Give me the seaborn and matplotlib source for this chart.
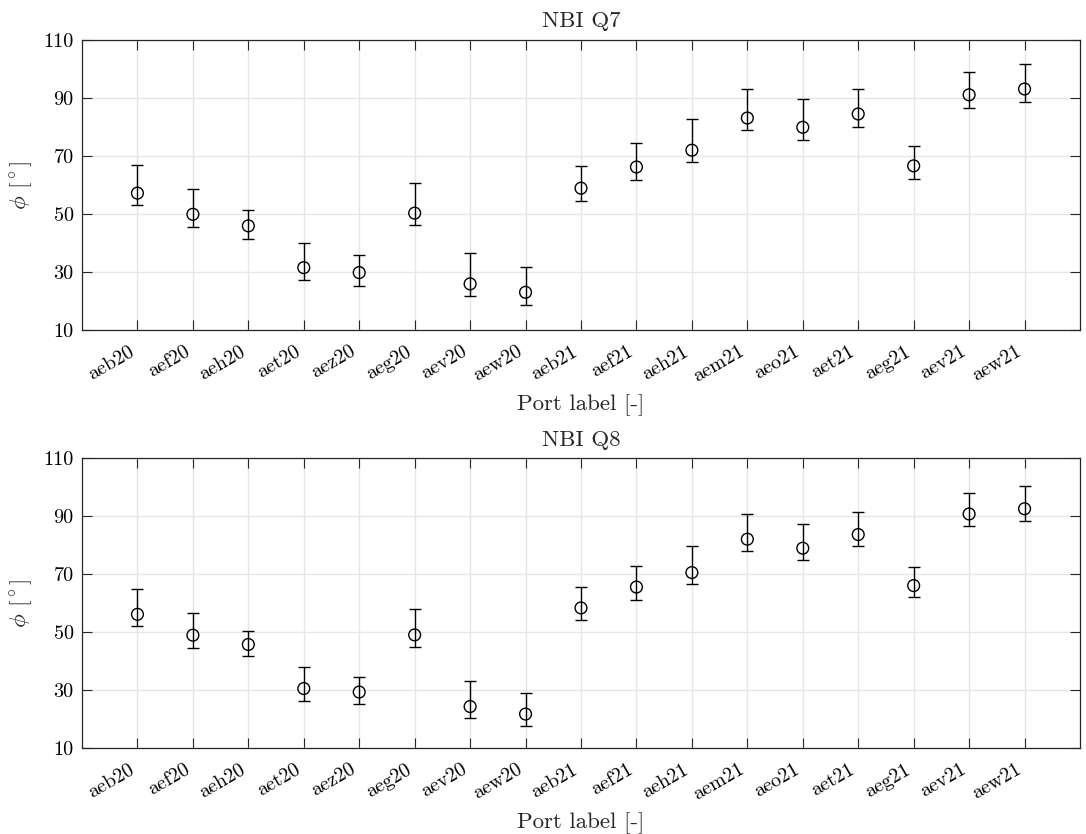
import numpy as np
import pandas as pd
import matplotlib
matplotlib.use("Agg")
import matplotlib.pyplot as plt
import matplotlib.transforms as mtransforms
import seaborn as sns

ports = ["aeb20", "aef20", "aeh20", "aet20", "aez20", "aeg20", "aev20", "aew20",
         "aeb21", "aef21", "aeh21", "aem21", "aeo21", "aet21", "aeg21", "aev21", "aew21"]

q7_phi = [57.2, 49.9, 45.9, 31.5, 29.8, 50.3, 25.9, 23.0,
          58.9, 66.2, 72.0, 83.1, 79.9, 84.5, 66.6, 91.1, 93.1]
q7_upper = [67.0, 58.7, 51.3, 40.1, 35.9, 60.8, 36.4, 31.6,
            66.4, 74.5, 82.8, 93.0, 89.5, 93.1, 73.6, 99.0, 101.8]
q7_lower = [53.0, 45.4, 41.4, 27.1, 25.2, 46.2, 21.8, 18.6,
            54.4, 61.6, 67.8, 78.9, 75.6, 80.0, 62.1, 86.6, 88.7]

q8_phi = [56.1, 48.9, 45.7, 30.5, 29.3, 49.0, 24.3, 21.7,
          58.3, 65.5, 70.5, 82.0, 78.9, 83.6, 66.0, 90.7, 92.5]
q8_upper = [64.7, 56.7, 50.5, 38.0, 34.6, 58.0, 33.2, 29.1,
            65.4, 72.9, 79.7, 90.8, 87.4, 91.5, 72.5, 97.8, 100.3]
q8_lower = [51.9, 44.6, 41.6, 26.2, 25.1, 44.9, 20.2, 17.6,
            54.1, 61.2, 66.4, 77.8, 74.7, 79.5, 61.9, 86.4, 88.4]

titles = ["NBI Q7", "NBI Q8"]
yticks = [10, 30, 50, 70, 90, 110]

sns.set_theme(style="ticks")
plt.rcParams["font.family"] = ["cmr10", "DejaVu Serif"]
plt.rcParams["mathtext.fontset"] = "cm"
plt.rcParams["axes.formatter.use_mathtext"] = True
plt.rcParams["axes.unicode_minus"] = False

fig = plt.figure(figsize=(10.86, 8.34), dpi=100)
W, H = 1086, 834
ax1 = fig.add_axes([82 / W, 1 - 330 / H, (1080 - 82) / W, 290 / H])
ax2 = fig.add_axes([82 / W, 1 - 748 / H, (1080 - 82) / W, 290 / H])

datasets = [(q7_phi, q7_lower, q7_upper), (q8_phi, q8_lower, q8_upper)]
fs = 14.5
fl = 16.5
for ax, (phi, lo, up), title in zip([ax1, ax2], datasets, titles):
    x = np.arange(1, len(ports) + 1)
    df = pd.DataFrame({"pos": x, "phi": phi, "lo": lo, "up": up})
    ax.set_axisbelow(True)
    ax.grid(True, color="#e6e6e6", linewidth=1.0)
    yerr = np.vstack([df["phi"] - df["lo"], df["up"] - df["phi"]])
    ax.errorbar(df["pos"], df["phi"], yerr=yerr, fmt="none", ecolor="black",
                elinewidth=1.0, capsize=4.5, capthick=1.0, zorder=2)
    sns.scatterplot(data=df, x="pos", y="phi", ax=ax, marker="o", s=72,
                    facecolor="none", edgecolor="black", linewidth=1.0, zorder=3)
    ax.set_xlim(0, 18)
    ax.set_ylim(10, 110)
    ax.set_xticks(x)
    ax.set_yticks(yticks)
    ax.tick_params(direction="in", length=7, width=0.8, top=True, right=True,
                   colors="#262626", labelcolor="black", pad=6)
    ax.tick_params(axis="x", pad=9)
    ax.set_xticklabels(ports, rotation=30, ha="right", rotation_mode="anchor", fontsize=fs)
    ax.set_yticklabels([str(v) for v in yticks], fontsize=fs)
    off = mtransforms.ScaledTranslation(-9 / 100, 0, fig.dpi_scale_trans)
    for lab in ax.xaxis.get_majorticklabels():
        lab.set_transform(lab.get_transform() + off)
    for sp in ax.spines.values():
        sp.set_visible(True)
        sp.set_color("#262626")
        sp.set_linewidth(0.9)
    ax.set_xlabel("Port label [-]", fontsize=fl, labelpad=6)
    ax.set_ylabel(r"$\phi$ [$^\circ$]", fontsize=fl, labelpad=6, color="#262626")
    ax.set_title(title, fontsize=fl, pad=9)

fig.savefig("out.png", dpi=100)
